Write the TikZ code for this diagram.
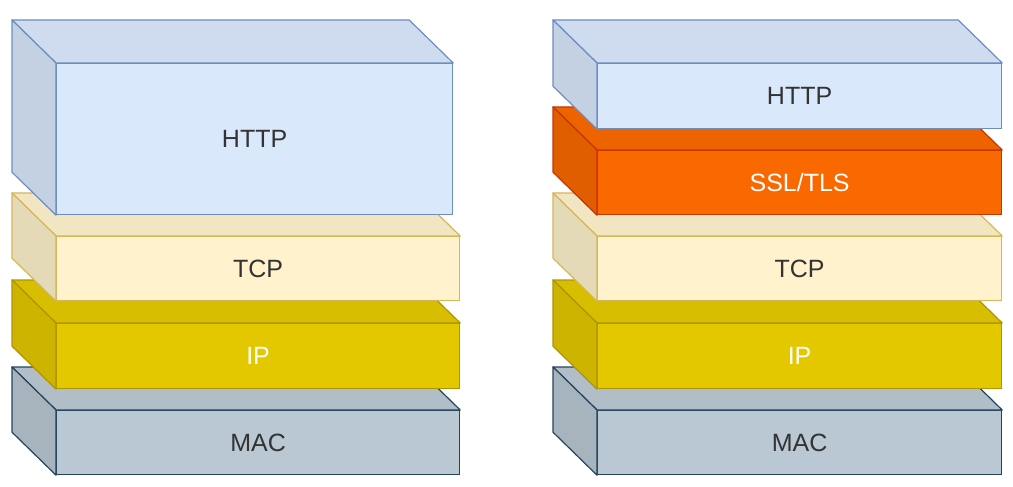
\documentclass[tikz,border=0pt]{standalone}
\usepackage{fontspec}
\setmainfont{Liberation Sans}
\usepackage{tikz}
\usetikzlibrary{positioning}

\definecolor{httpfill}{HTML}{DAE8FC}
\definecolor{httpline}{HTML}{6C8EBF}
\definecolor{sslfill}{HTML}{FA6800}
\definecolor{sslline}{HTML}{C73500}
\definecolor{tcpfill}{HTML}{FFF2CC}
\definecolor{tcpline}{HTML}{D6B656}
\definecolor{ipfill}{HTML}{E3C800}
\definecolor{ipline}{HTML}{B09500}
\definecolor{macfill}{HTML}{BAC8D3}
\definecolor{macline}{HTML}{23445D}
\definecolor{labeltext}{HTML}{333333}

\tikzset{
  layer/.style={rectangle, anchor=north west, inner sep=0pt, line width=1.2pt,
    text=labeltext, font=\fontsize{25}{30}\selectfont},
  http/.style={layer, fill=httpfill, draw=httpline},
  ssl/.style={layer, fill=sslfill, draw=sslline, text=white},
  tcp/.style={layer, fill=tcpfill, draw=tcpline},
  ip/.style={layer, fill=ipfill, draw=ipline, text=white},
  mac/.style={layer, fill=macfill, draw=macline},
}

% top and left faces of a layer: node name, fill colour, line colour
\newcommand{\cubefaces}[3]{%
  \filldraw[fill=#2!95!black, draw=#3, line width=1.2pt, line join=round]
    (#1.north west) -- ++(-44,-43) -- ([shift={(-44,-43)}]#1.north east)
    -- (#1.north east) -- cycle;
  \filldraw[fill=#2!90!black, draw=#3, line width=1.2pt, line join=round]
    (#1.north west) -- ++(-44,-43) -- ([shift={(-44,-43)}]#1.south west)
    -- (#1.south west) -- cycle;
}

\begin{document}
\begin{tikzpicture}[x=1pt, y=-1pt]
		\useasboundingbox (0,0) rectangle (1013,487);

		% HTTP over TCP
		\node[mac, minimum width=403pt, minimum height=64pt] (lmac) at (56,410) {MAC};
		\cubefaces{lmac}{macfill}{macline}
		\node[ip, minimum width=403pt, minimum height=65pt] (lip) at (56,323) {IP};
		\cubefaces{lip}{ipfill}{ipline}
		\node[tcp, minimum width=403pt, minimum height=64pt] (ltcp) at (56,236) {TCP};
		\cubefaces{ltcp}{tcpfill}{tcpline}
		\node[http, minimum width=396pt, minimum height=151pt] (lhttp) at (56,63) {HTTP};
		\cubefaces{lhttp}{httpfill}{httpline}

		% HTTP over SSL/TLS over TCP
		\node[mac, minimum width=404pt, minimum height=64pt] (rmac) at (597,410) {MAC};
		\cubefaces{rmac}{macfill}{macline}
		\node[ip, minimum width=404pt, minimum height=65pt] (rip) at (597,323) {IP};
		\cubefaces{rip}{ipfill}{ipline}
		\node[tcp, minimum width=404pt, minimum height=64pt] (rtcp) at (597,236) {TCP};
		\cubefaces{rtcp}{tcpfill}{tcpline}
		\node[ssl, minimum width=404pt, minimum height=64pt] (rssl) at (597,150) {SSL/TLS};
		\cubefaces{rssl}{sslfill}{sslline}
		\node[http, minimum width=404pt, minimum height=65pt] (rhttp) at (597,63) {HTTP};
		\cubefaces{rhttp}{httpfill}{httpline}
	\end{tikzpicture}
\end{document}
